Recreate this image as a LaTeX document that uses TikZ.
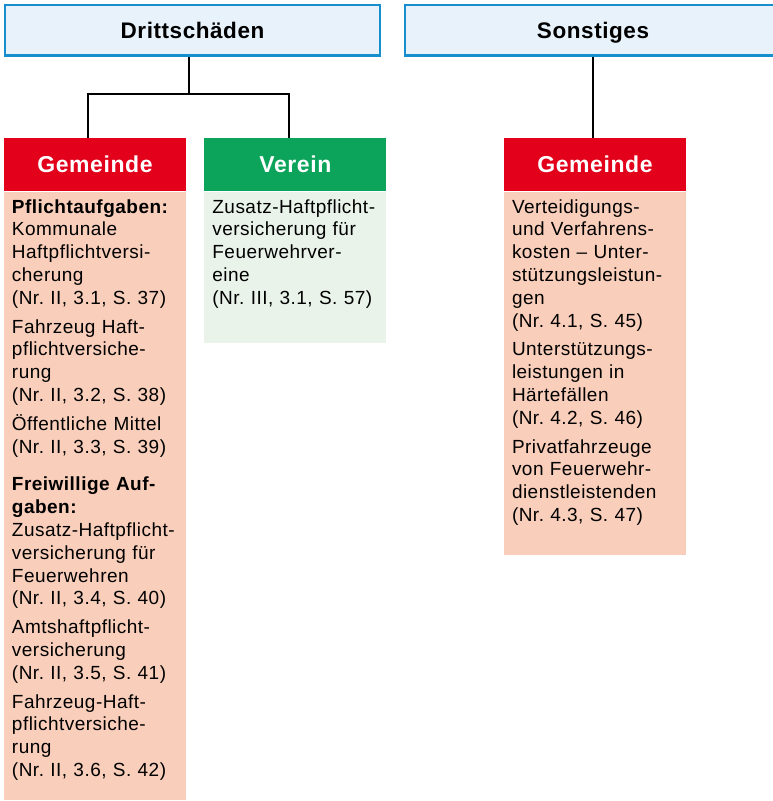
\documentclass[tikz,border=0pt]{standalone}
\usepackage{fontspec}
\setmainfont{Liberation Sans}[LetterSpace=2.5]
\usetikzlibrary{positioning}
\definecolor{topblue}{RGB}{21,143,206}
\definecolor{topfill}{RGB}{231,242,250}
\definecolor{gemred}{RGB}{226,0,26}
\definecolor{vergreen}{RGB}{12,163,90}
\definecolor{peach}{RGB}{249,206,186}
\definecolor{palegreen}{RGB}{233,243,234}
\tikzstyle{topbox} = [rectangle, draw=topblue, line width=2.5pt, fill=topfill,
    minimum width=375pt, minimum height=50.5pt, inner sep=0pt,
    text height=16.5pt, text depth=0pt, font=\bfseries\fontsize{22.5}{26}\selectfont]
\tikzstyle{head} = [rectangle, text=white, minimum width=182pt,
    minimum height=53pt, inner sep=0pt, text height=16.5pt, text depth=0pt,
    font=\bfseries\fontsize{23}{26}\selectfont]
\tikzstyle{body} = [rectangle, minimum width=182pt, inner sep=0pt]
\tikzstyle{bodytext} = [anchor=north west, text width=166pt, inner xsep=8pt,
    inner ysep=7pt, align=left, font=\fontsize{19}{22.8}\selectfont\frenchspacing]
\tikzstyle{line} = [draw, line width=2.6pt]

\begin{document}
\begin{tikzpicture}[x=1pt, y=-1pt]
    \useasboundingbox (0,0) rectangle (773,801);
    % Place nodes
    \node [topbox] (dritt) at (192.5,30.25) {Drittschäden};
    \node [topbox, minimum width=376pt] (sonst) at (593,30.25) {Sonstiges};
    \node [head, fill=gemred] (gemL) at (95,164.5) {Gemeinde};
    \node [head, fill=vergreen, right=18pt of gemL] (verein) {Verein};
    \node [head, fill=gemred] (gemR) at (595,164.5) {Gemeinde};
    \node [body, fill=peach, below=1pt of gemL, minimum height=608pt] (gemLbody) {};
    \node [body, fill=palegreen, below=1pt of verein, minimum height=151pt] (vereinbody) {};
    \node [body, fill=peach, below=1pt of gemR, minimum height=363pt] (gemRbody) {};

    % Texts
    \node [bodytext] (gemLtext) at (gemLbody.north west) {\textbf{Pflichtaufgaben:}\\
        Kommunale\\
        Haftpflichtversi-\\
        cherung\\
        (Nr. II, 3.1, S. 37)\\[6pt]
        Fahrzeug Haft-\\
        pflichtversiche-\\
        rung\\
        (Nr. II, 3.2, S. 38)\\[6pt]
        Öffentliche Mittel\\
        (Nr. II, 3.3, S. 39)\\[15pt]
        \textbf{Freiwillige Auf-}\\
        \textbf{gaben:}\\
        Zusatz-Haftpflicht-\\
        versicherung für\\
        Feuerwehren\\
        (Nr. II, 3.4, S. 40)\\[6pt]
        Amtshaftpflicht-\\
        versicherung\\
        (Nr. II, 3.5, S. 41)\\[6pt]
        Fahrzeug-Haft-\\
        pflichtversiche-\\
        rung\\
        (Nr. II, 3.6, S. 42)};
    \node [bodytext] (vereintext) at (vereinbody.north west) {Zusatz-Haftpflicht-\\
        versicherung für\\
        Feuerwehrver-\\
        eine\\
        (Nr. III, 3.1, S. 57)};
    \node [bodytext] (gemRtext) at (gemRbody.north west) {Verteidigungs-\\
        und Verfahrens-\\
        kosten – Unter-\\
        stützungsleistun-\\
        gen\\
        (Nr. 4.1, S. 45)\\[6pt]
        Unterstützungs-\\
        leistungen in\\
        Härtefällen\\
        (Nr. 4.2, S. 46)\\[6pt]
        Privatfahrzeuge\\
        von Feuerwehr-\\
        dienstleistenden\\
        (Nr. 4.3, S. 47)};

    % Draw edges
    \coordinate (fork) at (189,94);
    \coordinate (forkL) at (88,94);
    \coordinate (forkR) at (289,94);
    \path [line] (dritt.south -| fork) -- (fork);
    \path [line] (forkL |- gemL.north) -- (forkL) -- (forkR) -- (forkR |- verein.north);
    \path [line] (sonst.south) -- (sonst.south |- gemR.north);
\end{tikzpicture}
\end{document}
